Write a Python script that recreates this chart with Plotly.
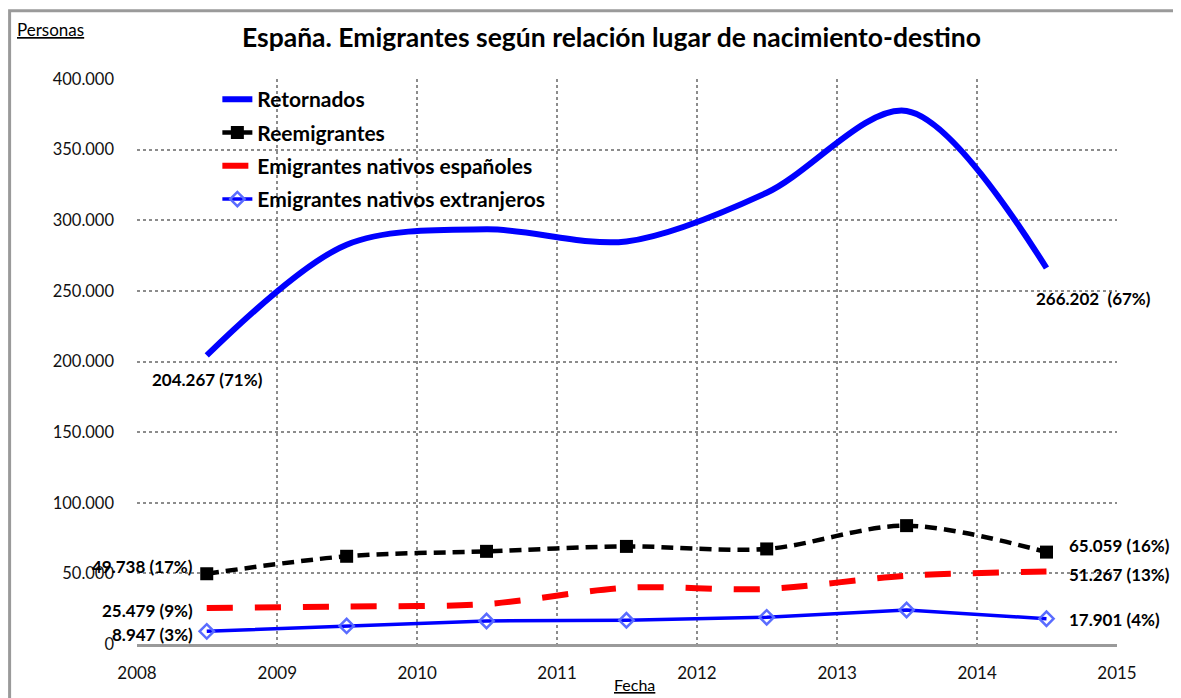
import plotly.graph_objects as go

# Datos (personas). Un valor por año, situado a mitad de año en el eje.
fechas = ["2008-07-01", "2009-07-01", "2010-07-01", "2011-07-01",
          "2012-07-01", "2013-07-01", "2014-07-01"]
retornados = [204267, 282700, 293600, 285000, 319500, 377400, 266202]
reemigrantes = [49738, 62100, 65600, 69100, 67300, 83800, 65059]
nativos_espanoles = [25479, 26600, 28300, 39800, 39000, 48300, 51267]
nativos_extranjeros = [8947, 12800, 16300, 16800, 18900, 24100, 17901]

etiquetas_ini = ["204.267 (71%)", "49.738 (17%)", "25.479 (9%)", "8.947 (3%)"]
etiquetas_fin = ["266.202  (67%)", "65.059 (16%)", "51.267 (13%)", "17.901 (4%)"]

FONT = "Lato"

fig = go.Figure()

fig.add_trace(go.Scatter(
    x=fechas, y=retornados, name="Retornados", mode="lines",
    line=dict(color="#0000ff", width=6, shape="spline", smoothing=0.9),
    legendgroup="a"))
fig.add_trace(go.Scatter(
    x=fechas, y=reemigrantes, name="Reemigrantes", mode="lines+markers",
    line=dict(color="#000000", width=4.5, dash="12px,7px", shape="spline", smoothing=0.9),
    marker=dict(symbol="square", size=13, color="#000000"),
    legendgroup="b"))
fig.add_trace(go.Scatter(
    x=fechas, y=nativos_espanoles, name="Emigrantes nativos españoles", mode="lines",
    line=dict(color="#ff0000", width=6, dash="26px,22px", shape="spline", smoothing=0.9),
    legendgroup="c"))
fig.add_trace(go.Scatter(
    x=fechas, y=nativos_extranjeros, name="Emigrantes nativos extranjeros",
    mode="lines+markers",
    line=dict(color="#0000ff", width=3.5),
    marker=dict(symbol="diamond-open", size=11, color="#5a6cff",
                line=dict(width=2.5)),
    legendgroup="d"))

# Etiquetas de valores al inicio y al final de cada serie
series = [retornados, reemigrantes, nativos_espanoles, nativos_extranjeros]
ini_shift = [(-57, -24, "left"), (-12, 7, "right"), (-12, -2, "right"), (-12, -3, "right")]
fin_shift = [(-12, -31, "left"), (21, 7, "left"), (21, -3, "left"), (21, -1, "left")]
for s, txt, (dx, dy, xa) in zip(series, etiquetas_ini, ini_shift):
    fig.add_annotation(x=fechas[0], y=s[0], text=txt, showarrow=False,
                       xanchor=xa, yanchor="middle", xshift=dx, yshift=dy,
                       font=dict(family=FONT, size=17, color="#000000", weight="bold"))
for s, txt, (dx, dy, xa) in zip(series, etiquetas_fin, fin_shift):
    fig.add_annotation(x=fechas[-1], y=s[-1], text=txt, showarrow=False,
                       xanchor=xa, yanchor="middle", xshift=dx, yshift=dy,
                       font=dict(family=FONT, size=17, color="#000000", weight="bold"))

fig.add_annotation(text="<u>Personas</u>", xref="paper", yref="paper",
                   x=-0.125, y=1.087, xanchor="left", yanchor="middle",
                   showarrow=False, font=dict(family=FONT, size=17, color="#000000"))
fig.add_annotation(text="<u>Fecha</u>", xref="paper", yref="paper",
                   x=0.508, y=-0.071, xanchor="center", yanchor="middle",
                   showarrow=False, font=dict(family=FONT, size=16, color="#000000"))

# Marco exterior del gráfico
fig.add_shape(type="rect", xref="paper", yref="paper",
              x0=-0.130, x1=1.08, y0=-0.14, y1=1.121,
              line=dict(color="#9a9a9a", width=3), layer="below")

fig.update_layout(
    width=1181, height=698,
    margin=dict(l=129, r=72, t=71, b=62),
    paper_bgcolor="white", plot_bgcolor="white",
    separators=",.",
    title=dict(text="<b>España. Emigrantes según relación lugar de nacimiento-destino</b>",
               x=0.511, xanchor="center", y=0.957, yanchor="middle",
               font=dict(family=FONT, size=26.5, color="#000000")),
    legend=dict(x=0.082, y=1.0, xanchor="left", yanchor="top",
                bgcolor="rgba(255,255,255,0)", traceorder="grouped",
                tracegroupgap=3,
                font=dict(family=FONT, size=21, color="#000000", weight="bold")),
    showlegend=True,
)

fig.update_xaxes(
    type="date", range=["2008-01-01", "2015-01-01"],
    dtick="M12", tickformat="%Y", tick0="2008-01-01",
    showgrid=True, gridcolor="#8c8c8c", griddash="dot", gridwidth=2,
    showline=True, linecolor="#9a9a9a", linewidth=3,
    ticks="", ticklabelstandoff=12, zeroline=False,
    tickfont=dict(family=FONT, size=17, color="#111111"))
fig.update_yaxes(
    range=[0, 400000], dtick=50000, tickformat=",d",
    showgrid=True, gridcolor="#8c8c8c", griddash="dot", gridwidth=2,
    showline=False, zeroline=False, ticks="", ticklabelstandoff=22,
    tickfont=dict(family=FONT, size=16.5, color="#111111"))

fig.write_html("out.html")
